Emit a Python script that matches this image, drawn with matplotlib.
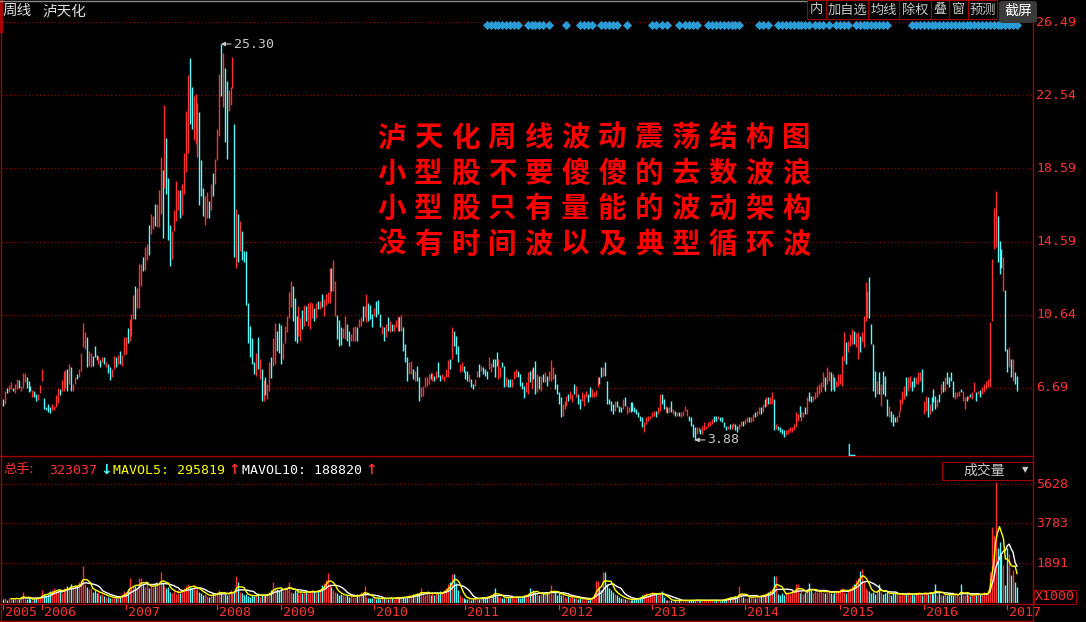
import matplotlib
matplotlib.use('Agg')
import matplotlib.pyplot as plt
import matplotlib.transforms as mtransforms
from matplotlib.patches import Rectangle, FancyBboxPatch
from matplotlib.lines import Line2D
import pandas as pd

plt.rcParams['font.family'] = ['Noto Sans CJK SC', 'DejaVu Sans']

# ---------------- data (weekly bars) ----------------
highs = [
    6.1, 6.5, 6.7, 6.87, 7.0, 6.7, 6.9, 7.2, 7.1,
    6.8, 7.5, 7.5, 7.3, 7.05, 6.8, 6.6, 6.5, 6.35, 6.35,
    6.85, 7.7, 6.15, 5.65, 5.8, 5.65, 5.8, 5.7,
    6.3, 6.7, 6.65, 7.1, 7.6, 7.65, 7.7, 8.0, 7.8, 6.9,
    7.3, 7.45, 7.7, 8.6, 10.2, 9.7, 9.45, 8.7, 8.6, 8.4,
    8.95, 8.5, 8.4, 8.2, 8.35, 8.35, 8.1, 8.0, 7.8,
    7.7, 8.4, 8.35, 8.5, 8.7, 8.5, 9.45, 9.45, 9.95,
    10.4, 10.7, 11.7, 12.2, 12.1, 13.4, 13.4, 13.8, 14.3, 14.5,
    15.5, 16.1, 16.0, 16.65, 16.65, 17.4, 19.2, 18.5, 22.0, 20.2,
    18.05, 15.5, 15.2, 16.3, 17.9, 17.4, 17.4, 17.7, 19.4, 21.7,
    23.6, 24.55, 23.0, 22.5, 22.6, 22.1, 21.6, 19.0, 17.5, 17.1,
    17.3, 16.8, 17.7, 18.3, 19.1, 20.7, 23.7, 25.3, 24.8, 24.0,
    23.3, 22.8, 23.0, 24.6, 21.0, 16.4, 16.1, 15.7, 15.2,
    14.1, 14.1, 11.3, 10.05, 9.4, 8.1, 8.6, 9.45, 8.25,
    7.7, 7.1, 7.3, 6.9, 8.1, 8.35, 9.4, 10.2, 9.75, 10.2,
    10.1, 9.15, 10.05, 10.6, 11.9, 12.5, 12.2, 11.55, 10.6,
    11.1, 10.5, 10.9, 11.2, 11.1, 11.3, 11.35, 11.3, 11.0,
    11.3, 11.4, 11.4, 11.75, 11.5, 11.75, 11.9, 13.2,
    13.2, 13.6, 12.5, 10.65, 10.35, 10.0, 9.95, 10.6,
    10.15, 9.79, 9.61, 9.97, 10.06, 9.97, 10.42, 10.51, 11.1, 11.1,
    11.8, 11.3, 11.2, 10.69, 11.0, 11.41, 11.45, 10.69, 10.06, 10.0,
    10.15, 10.55, 10.33, 10.15, 10.15, 10.37, 10.6, 10.51, 10.65, 9.97,
    9.07, 8.35, 8.08, 8.17, 7.72, 7.63, 7.9, 7.27, 6.73, 6.82,
    7.27, 7.27, 7.45, 7.48, 7.48, 7.36, 7.63, 8.08, 7.41, 7.45,
    7.36, 7.72, 8.2, 8.26, 9.97, 9.79, 9.52, 8.98, 7.99, 8.08,
    7.9, 7.63, 7.63, 7.45, 7.18, 6.91, 7.18, 7.63, 7.99, 7.9,
    7.81, 7.72, 7.59, 8.35, 8.03, 8.26, 8.26, 8.62, 8.26, 7.81,
    8.08, 7.9, 7.27, 7.18, 7.18, 7.18, 7.63, 7.72, 7.63, 7.45,
    7.0, 6.82, 7.0, 7.54, 7.63, 7.72, 7.81, 8.17, 7.45, 7.36,
    7.36, 7.45, 7.54, 7.36, 7.63, 8.2, 7.81, 7.45, 6.91, 6.46,
    6.19, 5.83, 6.01, 6.28, 6.37, 6.55, 6.37, 6.91, 6.82, 6.37,
    6.1, 6.46, 6.37, 6.55, 6.37, 6.73, 6.64, 6.46, 6.58, 7.27,
    7.27, 7.85, 7.81, 8.08, 7.09, 6.1, 6.01, 5.83, 6.01, 6.01,
    5.74, 5.65, 6.1, 6.19, 5.74, 5.65, 5.92, 5.92, 5.65, 5.56,
    5.38, 5.2, 5.11, 4.84, 5.11, 5.2, 5.2, 5.38, 5.47, 5.47,
    5.65, 6.37, 6.37, 6.1, 5.74, 5.65, 5.65, 6.01, 5.56, 5.47,
    5.38, 5.38, 5.38, 5.47,
    5.74, 5.56, 5.2, 5.11, 4.75, 4.57, 4.57, 4.57, 4.48, 4.66,
    4.84, 4.66, 4.84, 4.93, 5.02, 5.2, 5.2, 5.2, 5.11, 5.14,
    4.84, 4.66, 4.66, 4.75, 4.75, 4.78, 4.75, 4.66, 4.75, 4.93,
    4.93, 5.02, 5.11, 5.11, 5.11, 5.29, 5.38, 5.47, 5.65, 5.65,
    5.83, 6.1, 6.19, 6.19, 6.19, 6.46, 6.1, 4.75, 4.66, 4.6,
    4.48, 4.39, 4.39, 4.48, 4.57, 4.6, 4.75, 5.38, 5.29, 5.74,
    5.47, 5.38, 5.65, 6.19, 6.46, 6.28, 6.28, 6.46, 6.82, 6.91,
    7.0, 7.54, 7.27, 7.81, 7.63, 7.54, 7.45, 7.27, 7.09, 7.45,
    7.45, 8.44, 9.7, 9.16, 9.25, 9.61, 9.88, 9.79, 9.64, 9.7,
    9.52, 9.7, 10.6, 12.4, 11.95, 12.7, 10.15, 9.07, 7.63, 7.09,
    7.54, 6.91, 7.63, 7.36, 6.1, 5.74, 5.47, 5.29, 5.11, 5.2,
    5.47, 6.1, 6.55, 6.82, 7.27, 7.27, 7.36, 7.09, 7.27, 7.27,
    7.54, 7.54, 7.72, 6.01, 6.28, 6.19, 5.83, 6.19, 6.64, 6.28,
    6.1, 6.37, 6.91, 7.09, 7.27, 7.54, 7.27, 7.54, 7.09, 6.46,
    6.46, 6.55, 6.64, 6.55, 6.19, 6.28, 6.28, 6.37, 6.46, 7.0,
    6.46, 6.55, 6.58, 6.73, 6.91, 7.09, 7.18, 10.24, 13.65, 16.45,
    17.35, 16.0, 14.65, 14.2, 13.75, 12.0, 8.8, 8.89, 8.26, 8.26,
    7.54, 7.36,
]

lows = [
    5.7, 5.83, 6.4, 6.45, 6.65, 6.55, 6.4, 6.65, 6.7,
    6.55, 6.7, 7.0, 6.7, 6.45, 6.5, 6.2, 6.2, 6.0, 6.05,
    6.4, 7.05, 5.55, 5.5, 5.4, 5.35, 5.5, 5.5,
    5.65, 5.9, 6.3, 6.55, 6.55, 6.7, 6.55, 6.9, 6.55, 6.55,
    6.9, 7.2, 7.3, 7.6, 8.9, 8.8, 7.85, 7.9, 7.8, 7.9,
    8.35, 8.2, 8.0, 7.8, 8.1, 8.0, 7.8, 7.5, 7.1,
    7.3, 7.7, 7.8, 8.0, 8.0, 7.9, 8.5, 8.55, 9.15,
    9.25, 9.5, 10.4, 10.4, 11.0, 11.0, 12.2, 13.0, 13.1, 13.6,
    13.9, 15.0, 15.3, 15.45, 15.4, 15.4, 16.1, 14.8, 17.5, 17.2,
    14.7, 13.3, 13.65, 15.2, 15.7, 16.3, 15.9, 16.05, 17.2, 18.4,
    19.4, 20.95, 20.7, 20.1, 19.9, 19.2, 16.6, 17.1, 16.0, 15.5,
    15.9, 15.9, 16.3, 17.1, 17.7, 19.05, 20.3, 22.5, 21.9, 20.0,
    19.1, 21.7, 22.0, 22.9, 13.8, 13.2, 13.5, 14.1, 13.6,
    13.5, 11.2, 9.15, 8.35, 8.0, 7.45, 7.35, 7.7, 7.2,
    6.0, 6.0, 6.3, 6.1, 6.55, 7.25, 7.9, 8.0, 8.7, 8.6,
    8.0, 8.25, 9.15, 9.7, 10.5, 11.05, 10.3, 9.25, 9.15,
    9.5, 9.25, 9.9, 10.05, 10.3, 10.05, 9.9, 10.5, 10.3,
    10.5, 10.95, 10.95, 11.05, 10.6, 11.2, 11.3, 11.3,
    11.95, 11.95, 10.6, 9.35, 8.95, 9.0, 9.4, 9.35,
    9.25, 8.98, 9.25, 9.25, 9.25, 9.25, 9.97, 10.06, 10.33, 10.51,
    10.24, 10.33, 10.4, 9.97, 10.6, 10.51, 10.69, 9.97, 9.61, 9.25,
    9.43, 9.79, 9.7, 9.79, 9.79, 9.97, 9.79, 9.79, 9.79, 8.71,
    8.08, 7.09, 7.45, 7.45, 7.18, 7.09, 7.09, 6.01, 6.19, 6.28,
    6.73, 6.82, 6.91, 7.18, 7.09, 7.09, 7.18, 7.27, 7.09, 7.18,
    7.05, 7.27, 7.27, 7.72, 8.26, 8.98, 8.53, 8.08, 7.54, 7.63,
    7.54, 7.18, 7.09, 7.0, 6.73, 6.64, 6.82, 7.27, 7.27, 7.63,
    7.45, 7.36, 7.18, 7.72, 7.54, 7.81, 7.27, 7.9, 7.18, 7.27,
    7.81, 6.73, 6.82, 6.73, 6.73, 6.73, 7.18, 7.27, 7.27, 6.82,
    6.64, 6.15, 6.46, 6.37, 7.0, 6.64, 7.18, 6.37, 6.46, 6.64,
    6.55, 7.0, 7.0, 6.82, 7.09, 7.09, 7.18, 6.64, 6.37, 5.83,
    5.11, 5.2, 5.56, 5.74, 6.01, 6.1, 5.92, 6.37, 6.19, 5.83,
    5.56, 6.01, 5.74, 6.19, 5.92, 6.19, 6.19, 6.19, 6.28, 6.73,
    6.91, 7.27, 7.36, 7.36, 5.83, 5.83, 5.47, 5.29, 5.47, 5.65,
    5.38, 5.38, 5.56, 5.74, 5.29, 5.38, 5.38, 5.47, 5.38, 5.29,
    5.11, 4.93, 4.57, 4.3, 4.75, 4.93, 5.02, 5.11, 5.2, 5.14,
    5.29, 5.47, 5.83, 5.56, 5.38, 5.32, 5.38, 5.38, 5.29, 5.2,
    5.2, 5.2, 5.11, 5.2,
    5.47, 5.2, 4.93, 4.66, 4.03, 3.88, 4.21, 4.3, 4.21, 4.21,
    4.39, 4.48, 4.57, 4.66, 4.75, 4.84, 4.93, 5.02, 4.93, 4.84,
    4.57, 4.39, 4.48, 4.48, 4.48, 4.57, 4.39, 4.3, 4.48, 4.66,
    4.66, 4.75, 4.84, 4.84, 4.84, 4.93, 5.11, 5.2, 5.29, 5.29,
    5.38, 5.65, 5.74, 5.83, 5.83, 5.83, 4.39, 4.48, 4.39, 4.3,
    4.21, 4.03, 4.12, 4.21, 4.3, 4.3, 4.39, 4.57, 4.93, 5.11,
    4.93, 5.11, 5.29, 5.29, 6.01, 5.92, 6.01, 6.1, 6.19, 6.37,
    6.46, 6.73, 6.55, 6.91, 7.09, 6.55, 6.64, 6.55, 6.73, 6.82,
    6.91, 6.82, 8.17, 7.99, 8.62, 8.98, 9.07, 9.07, 8.89, 8.26,
    8.62, 9.16, 8.89, 10.33, 10.5, 10.5, 9.07, 6.55, 6.19, 6.37,
    6.37, 5.74, 6.37, 6.28, 5.2, 5.11, 4.84, 4.66, 4.84, 4.84,
    5.11, 5.47, 5.83, 6.1, 6.28, 6.55, 6.73, 6.55, 6.73, 6.91,
    6.91, 7.09, 6.46, 5.29, 5.47, 5.11, 5.29, 5.47, 5.92, 5.56,
    5.65, 5.92, 6.37, 6.46, 6.55, 6.91, 6.73, 7.09, 6.19, 6.1,
    6.19, 6.28, 6.46, 6.01, 5.56, 6.01, 6.1, 6.19, 6.1, 6.46,
    6.01, 6.37, 6.19, 6.37, 6.46, 6.64, 6.73, 6.73, 10.33, 14.2,
    14.3, 13.48, 12.85, 13.2, 11.95, 8.7, 7.54, 7.81, 7.27, 7.09,
    6.91, 6.55,
]

# r = week closed up (red), c = week closed down (cyan)
updown = ("crcrrcrrc rrrcccrccr rrccccrr rrcrrrcrcr rcrrrrcrrc ccrcrcrcc "
          "rrcrcrrrc rrrcrrrcrr crrcrrrcrc ccrrrrcrrr rccrrrcccr rcrcrrrcrc "
          "crrrcrcrc ccccccrcr crcrrcrrcc crrrrrccc rrcrcrrrc rcrcrrrr "
          "crrcccrr "
          "ccrrrcrrcr rcccrcccrc rcrcrrrcrc ccrrcrccrr rrrcrcrccr rrrcrcccrr "
          "cccrccrrcr cccrrcccrr ccrccrrrcc ccrrcrccrc rcrcrrrccc crrrcrrcrc "
          "crrrccrrrr ccrcccccrc ccrcrrcccc cccrrrrrrc rrccrcrcrc rcrr "
          "rrccccrrcr rrrrrccrcc ccrcrrccrr crrcrrcrrc rcrcrrcrcc ccrrrrrrrc "
          "rrcrccrrrr rrcrrcrcrr rrrcrrrcrr crrrrccccr crcccrcccr rrrrcrrccr "
          "rrcrrcrccc rcrcrccccr rrcrrcrcrr crcrrrrrrr rcccrccrcr cc").replace(' ', '')

# weekly volume, in units of 1000 hands
volume = [
    180, 220, 150, 260, 200, 170, 240, 210, 190, 260, 500, 200, 170, 220, 190, 160, 210, 250, 230,
    300, 630, 420, 350, 380, 560, 620, 700, 520, 590, 680, 450, 720, 650, 800, 760, 900, 680,
    850, 760, 1000, 1100, 1770, 900, 760, 640, 700, 520, 600, 480, 510, 380, 420, 350, 300, 280, 240,
    260, 250, 230, 280, 300, 420, 560, 500, 640, 1185, 720, 780, 820, 700, 1200, 1200, 860, 780, 880,
    720, 820, 760, 900, 980, 860, 1470, 1000, 820, 700, 760, 520, 460, 560, 420, 600, 480, 620, 700, 800,
    900, 760, 680, 850, 620, 720, 520, 460, 380, 420, 340, 300, 360, 450, 400, 520, 600, 480, 400, 440,
    380, 520, 600, 480, 560, 1260, 980, 520, 480, 380, 420, 340, 300, 360, 320, 400, 450, 300,
    380, 320, 420, 460, 520, 600, 980, 720, 640, 560, 700, 580, 760, 640, 1000, 540, 480, 600, 520,
    440, 560, 480, 520, 600, 460, 500, 620, 580, 480, 600, 640, 860, 950, 1080, 1420, 900,
    780, 620, 520, 450, 380, 420, 360, 320,
    380, 300, 340, 280, 300, 420, 360, 500, 380, 800, 300, 260,
    240, 220, 260, 200, 240, 180, 220, 250, 190, 210, 240, 260, 200, 230, 280, 250, 300, 280, 240, 320,
    380, 350, 420, 400, 460, 420, 700, 480, 380, 450, 540, 400, 520, 360, 480, 420, 560, 500, 620, 700,
    900, 1000, 1390, 1390, 950, 600, 380, 300, 240, 200, 180, 220, 160, 200, 230, 250, 210, 260, 280, 240,
    300, 350, 420, 400, 700, 320, 280, 300, 260, 240, 220, 280, 250, 300, 240, 320, 280, 260, 300, 380,
    420, 360, 700, 520, 600, 500, 420, 380, 440, 460, 420, 500, 480, 850, 440, 520, 400, 460, 380, 420,
    300, 260, 320, 280, 300, 260, 240, 200, 220, 180, 160, 200, 150, 180, 300, 420, 1050, 1050, 720, 620,
    1450, 1480, 900, 700, 600, 520, 420, 380, 300, 260, 220, 200, 180, 160, 150, 140, 200, 260, 240, 300,
    360, 420, 480, 400, 380, 520, 460, 420, 360, 480, 550, 300, 160, 130, 120, 140, 110, 130, 100, 120,
    140, 110, 120, 100, 130, 150, 120, 110, 160, 140, 120, 100, 130, 110, 150, 120, 140, 100, 130, 120,
    110, 150, 180, 220, 260, 300, 240, 280, 320, 260, 800, 420, 300, 260, 240, 280, 300, 340, 260, 320,
    300, 360, 420, 380, 460, 520, 600, 640, 1300, 1300, 420, 380, 460, 400, 520, 480, 440, 600, 520, 900,
    900, 460, 560, 420, 500, 620, 950, 600, 480, 560, 520, 640, 580, 500, 460, 540, 620, 480, 420, 520,
    600, 560, 640, 700, 540, 480, 600, 720, 820, 900, 1100, 1200, 1500, 1600, 1000, 720, 600, 560, 480, 520,
    440, 600, 900, 520, 420, 480, 520, 440, 380, 460, 500, 420, 360, 400, 460, 380, 420, 500, 360, 440,
    400, 480, 520, 420, 380, 460, 500, 440, 520, 480, 420, 900, 380, 460, 400, 360, 440, 380, 420, 360,
    400, 460, 380, 340, 880, 400, 360, 420, 380, 340, 400, 440, 380, 460, 420, 380, 500, 460, 420, 1480,
    3610, 3220, 5740, 2590, 2900, 2270, 1800, 850, 2590, 2300, 1325, 1560, 1010, 770,
]

assert len(highs) == len(lows) == len(updown) == len(volume)

price_ticks = [26.49, 22.54, 18.59, 14.59, 10.64, 6.69]
vol_ticks = [5628, 3783, 1891]
year_labels = ['2005', '2006', '2007', '2008', '2009', '2010', '2011',
               '2012', '2013', '2014', '2015', '2016', '2017']
year_bars = [0, 20, 63, 110, 143, 191, 238, 286, 334, 382, 431, 474, 517]
info_bars = [249, 251, 253, 255, 257, 259, 261, 263, 265, 270, 272, 274, 276, 278, 281,
             290, 297, 299, 301, 303, 308, 310, 312, 314, 316, 321, 334, 336, 339, 342,
             348, 351, 353, 355, 357, 363, 365, 367, 369, 371, 373, 375, 377, 379,
             389, 391, 394, 399, 401, 403, 405, 407, 409, 411, 413, 415, 418, 420, 422, 425,
             429, 431, 433, 435, 439, 441, 443, 445, 447, 449, 451, 453, 455,
             468, 470, 472, 474, 476, 478, 480, 482, 484, 486, 488, 490, 492, 494, 496, 498,
             500, 502, 504, 506, 508, 510, 512, 514, 516, 518, 520, 522]
peak_bar, peak_val = 112, 25.30
low_bar, low_val = 356, 3.88
notes = ['泸天化周线波动震荡结构图',
         '小型股不要傻傻的去数波浪',
         '小型股只有量能的波动架构',
         '没有时间波以及典型循环波']
buttons = ['内', '加自选', '均线', '除权', '叠', '窗', '预测']

# ---------------- drawing ----------------
W, H = 1086, 622
RED = '#ff3232'
CYAN = '#54fcfc'
FRAME = '#a00000'
GRID = '#8c0000'
MONO = 'DejaVu Sans Mono'

fig = plt.figure(figsize=(W / 100, H / 100), dpi=100, facecolor='black')


def box(x0, y0, x1, y1):
    return [x0 / W, 1 - y1 / H, (x1 - x0) / W, (y1 - y0) / H]


def hline(y, x0, x1, color=FRAME, lw=1.0):
    fig.add_artist(Line2D([x0 / W, x1 / W], [1 - y / H, 1 - y / H], color=color, lw=lw,
                          transform=fig.transFigure))


def vline(x, y0, y1, color=FRAME, lw=1.0):
    fig.add_artist(Line2D([x / W, x / W], [1 - y0 / H, 1 - y1 / H], color=color, lw=lw,
                          transform=fig.transFigure))


def txt(x, y, s, **kw):
    kw.setdefault('va', 'center')
    return fig.text(x / W, 1 - y / H, s, **kw)


n = len(highs)
idx = list(range(n))
cols = [RED if f == 'r' else CYAN for f in updown]

ax = fig.add_axes(box(2, 20, 1033, 456))
axv = fig.add_axes(box(2, 456, 1033, 603))
for a in (ax, axv):
    a.set_facecolor('black')
    a.set_axis_off()
    a.set_xlim(-0.67, n - 1 + 8.24)
ax.set_ylim(3.01, 26.60)
axv.set_ylim(0, 6953)

for v in price_ticks:
    ax.axhline(v, color=GRID, lw=0.9, ls=(0, (1, 2)))
for v in vol_ticks:
    axv.axhline(v, color=GRID, lw=0.9, ls=(0, (1, 2)))

# candles
ax.vlines(idx, lows, highs, colors=cols, lw=1.0)

# volume + moving averages
axv.vlines(idx, 0, volume, colors=cols, lw=1.0)
vs = pd.Series(volume, dtype=float)
axv.plot(idx, vs.rolling(10).mean(), color='white', lw=1.0)
axv.plot(idx, vs.rolling(5).mean(), color='#ffff00', lw=1.0)

# price / volume labels on the right
tp = mtransforms.blended_transform_factory(ax.transAxes, ax.transData)
for v in price_ticks:
    ax.text(1 + 3 / 1031, v, f'{v:.2f}', transform=tp, color=RED, fontsize=9.5,
            family=MONO, va='center', ha='left', clip_on=False)
tv = mtransforms.blended_transform_factory(axv.transAxes, axv.transData)
for v in vol_ticks:
    axv.text(1 + 3 / 1031, v, f'{v}', transform=tv, color=RED, fontsize=9.5,
             family=MONO, va='center', ha='left', clip_on=False)

# max / min markers
for b, v in ((peak_bar, peak_val), (low_bar, low_val)):
    ax.annotate(f'{v:.2f}', xy=(b, v), xytext=(13, 0), textcoords='offset pixels',
                color='#c8c8c8', fontsize=9.5, family=MONO, va='center', ha='left',
                arrowprops=dict(arrowstyle='-|>', color='#c8c8c8', lw=0.8, mutation_scale=6,
                                shrinkA=0, shrinkB=0))

# information markers along the top
ti = mtransforms.blended_transform_factory(ax.transData, fig.transFigure)
ax.scatter(info_bars, [1 - 25 / H] * len(info_bars), transform=ti, marker='D', s=22,
           color='#2a9bd4', clip_on=False, zorder=5, linewidths=0)

# year axis
ty = mtransforms.blended_transform_factory(axv.transData, fig.transFigure)
for b, lab in zip(year_bars, year_labels):
    axv.plot([b, b], [1 - 604 / H, 1 - 609 / H], transform=ty, color=RED, lw=0.8, clip_on=False)
    axv.text(b, 1 - 613 / H, lab, transform=mtransforms.offset_copy(ty, fig=fig, x=2, units='dots'),
             color=RED, fontsize=9.5, family=MONO, va='center', ha='left', clip_on=False)

# frame lines
vline(1, 0, 622)
fig.add_artist(Rectangle((0, 1 - 33 / H), 2.5 / W, 33 / H, transform=fig.transFigure,
                         color='#b00000', lw=0))
hline(0.5, 0, 806, color='#8a8a8a')
vline(1033, 22, 622)
hline(456, 0, 1033)
hline(603.5, 0, 1033)
hline(621, 0, 1033)

# header
txt(3, 11, '周线', color='#e0e0e0', fontsize=10.5)
txt(42, 11, '泸天化', color='#e0e0e0', fontsize=10.5)

edges = [807, 826, 868, 899, 931, 949, 968, 997]
for i, lab in enumerate(buttons):
    fig.add_artist(Rectangle((edges[i] / W, 1 - 19 / H), (edges[i + 1] - edges[i]) / W, 19 / H,
                             transform=fig.transFigure, fill=False, edgecolor=FRAME, lw=0.8))
    txt((edges[i] + edges[i + 1]) / 2, 10, lab, color='#c8c8c8', fontsize=9.5, ha='center')
fig.add_artist(FancyBboxPatch((999 / W, 1 - 23 / H), 38 / W, 22 / H, transform=fig.transFigure,
                              boxstyle='round,pad=0,rounding_size=0.004', facecolor='#3a3a3a',
                              edgecolor='none'))
txt(1018, 11, '截屏', color='white', fontsize=10, ha='center')

# big red note
for i, line in enumerate(notes):
    for j, ch in enumerate(line):
        txt(391.5 + j * 36.8, 138 + i * 35.6, ch, color='#ff0000', fontsize=20.5,
            fontweight='bold', ha='center')

txt(851, 451, 'L', color='#40e8ff', fontsize=11, family='DejaVu Sans Mono', ha='center')

# volume header
txt(3, 470, '总手:', color=RED, fontsize=9.5)
txt(49, 470, '323037', color=RED, fontsize=9.5, family=MONO)
txt(100, 470, '↓', color=CYAN, fontsize=10, family='DejaVu Sans', fontweight='bold')
txt(113, 470, 'MAVOL5: 295819', color='#ffff00', fontsize=9.5, family=MONO)
txt(228, 470, '↑', color=RED, fontsize=10, family='DejaVu Sans', fontweight='bold')
txt(242, 470, 'MAVOL10: 188820', color='white', fontsize=9.5, family=MONO)
txt(365, 470, '↑', color=RED, fontsize=10, family='DejaVu Sans', fontweight='bold')

fig.add_artist(Rectangle((942 / W, 1 - 480 / H), 91 / W, 18 / H, transform=fig.transFigure,
                         fill=False, edgecolor=FRAME, lw=0.8))
txt(984, 471, '成交量', color='#c8c8c8', fontsize=10, ha='center')
txt(1025, 470, '▼', color='#c8c8c8', fontsize=6, family='DejaVu Sans', ha='center')

fig.add_artist(Rectangle((1034 / W, 1 - 604 / H), 42 / W, 14 / H, transform=fig.transFigure,
                         fill=False, edgecolor=FRAME, lw=0.8))
txt(1055, 597, 'X1000', color=RED, fontsize=9.5, family=MONO, ha='center')

fig.savefig('out.png', dpi=100, facecolor='black')
